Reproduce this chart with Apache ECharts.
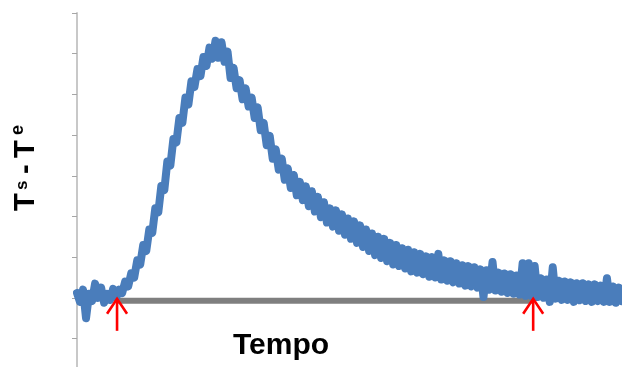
<!DOCTYPE html>
<html>
<head>
<meta charset="utf-8">
<script src="https://cdn.jsdelivr.net/npm/echarts@6/dist/echarts.min.js"></script>
<style>
  html, body { margin: 0; padding: 0; background: #fff; }
  #chart { width: 622px; height: 367px; }
</style>
</head>
<body>
<div id="chart"></div>
<script>
// Ts - Te response, one reading per sample step
const tsTe = [
  0.12, -0.1, 0.2, -0.5, 0.1, -0.08, 0.35, 0.0, 0.25, -0.12,
  0.1, -0.05, 0.22, 0.0, 0.2, 0.12, 0.4, 0.28, 0.6, 0.5,
  0.92, 0.82, 1.3, 1.15, 1.68, 1.6, 2.2, 2.1, 2.75, 2.65,
  3.35, 3.25, 3.9, 3.82, 4.42, 4.3, 4.92, 4.75, 5.32, 5.18,
  5.62, 5.45, 5.92, 5.7, 6.15, 5.88, 6.32, 5.9, 6.28, 5.8,
  6.05, 5.4, 5.65, 5.15, 5.35, 4.88, 5.15, 4.7, 4.92, 4.42,
  4.68, 4.12, 4.3, 3.75, 3.98, 3.42, 3.65, 3.15, 3.42, 2.9,
  3.18, 2.7, 3.02, 2.52, 2.85, 2.4, 2.74, 2.25, 2.62, 2.12,
  2.48, 1.98, 2.35, 1.85, 2.2, 1.75, 2.15, 1.65, 2.05, 1.55,
  1.95, 1.45, 1.88, 1.35, 1.78, 1.25, 1.68, 1.15, 1.58, 1.05,
  1.5, 0.98, 1.45, 0.9, 1.35, 0.82, 1.3, 0.78, 1.22, 0.72,
  1.18, 0.65, 1.12, 0.62, 1.08, 0.58, 1.02, 0.52, 1.0, 0.5,
  1.08, 0.45, 0.92, 0.42, 0.9, 0.38, 0.85, 0.35, 0.8, 0.3,
  0.78, 0.28, 0.75, 0.25, 0.7, 0.02, 0.68, 0.2, 0.88, 0.18,
  0.62, 0.15, 0.6, 0.12, 0.58, 0.1, 0.55, 0.08, 0.85, 0.05,
  0.85, 0.05, 0.78, 0.02, 0.48, 0.0, 0.45, -0.1, 0.75, -0.02,
  0.42, -0.05, 0.4, -0.05, 0.38, -0.1, 0.36, -0.06, 0.36, -0.08,
  0.33, -0.1, 0.33, -0.08, 0.3, -0.1, 0.48, -0.1, 0.28, -0.12,
  0.25, -0.08
];

// start / end of the response (sample position)
const arrowAt = [13.3, 151.5];
const baseline = [[13.3, -0.07], [151.5, -0.07]];

const yMin = -1.7;
const yMax = 7;
const yTicks = [-1, 0, 1, 2, 3, 4, 5, 6, 7];

const FONT = '"Liberation Sans", Arial, sans-serif';

const chart = echarts.init(document.getElementById('chart'), null, { renderer: 'canvas' });

chart.setOption({
  animation: false,
  grid: { left: 77, right: 0, top: 13, bottom: 0, containLabel: false },
  xAxis: {
    type: 'value',
    min: 0,
    max: tsTe.length - 1,
    show: false
  },
  yAxis: {
    type: 'value',
    min: yMin,
    max: yMax,
    axisLine: { show: true, lineStyle: { color: '#c8c8c8', width: 2 } },
    axisTick: {
      show: true,
      length: 5,
      customValues: yTicks,
      lineStyle: { color: '#a6a6a6', width: 1 }
    },
    axisLabel: { show: false },
    splitLine: { show: false }
  },
  series: [
    {
      type: 'line',
      data: baseline,
      symbol: 'none',
      z: 1,
      lineStyle: { color: '#7f7f7f', width: 6 }
    },
    {
      type: 'line',
      data: tsTe.map((v, i) => [i, v]),
      symbol: 'none',
      z: 2,
      lineStyle: { color: '#4a7dbb', width: 8, join: 'round', cap: 'round' }
    },
    {
      type: 'custom',
      z: 3,
      data: arrowAt.map((t) => [t, 0]),
      renderItem: (params, api) => {
        const p = api.coord([api.value(0), api.value(1)]);
        const x = p[0];
        const y = p[1] + 1;
        const style = { stroke: '#ff0000', lineWidth: 2.6, fill: null };
        return {
          type: 'group',
          children: [
            { type: 'line', shape: { x1: x, y1: y, x2: x, y2: y + 32 }, style },
            { type: 'polyline', shape: { points: [[x - 10, y + 15], [x, y], [x + 10, y + 15]] }, style }
          ]
        };
      }
    }
  ],
  graphic: [
    {
      type: 'text',
      x: 233,
      y: 346,
      style: {
        text: 'Tempo',
        font: 'bold 30px ' + FONT,
        fill: '#000',
        textAlign: 'left',
        textVerticalAlign: 'middle'
      }
    },
    {
      type: 'group',
      x: 35,
      y: 212,
      rotation: Math.PI / 2,
      children: [
        { type: 'text', x: 1, y: -9, style: { text: 'T', font: 'bold 29px ' + FONT, fill: '#000', textVerticalAlign: 'middle' } },
        { type: 'text', x: 22, y: -13, style: { text: 's', font: 'bold 17px ' + FONT, fill: '#000', textVerticalAlign: 'middle' } },
        { type: 'text', x: 38, y: -9, style: { text: '-', font: 'bold 29px ' + FONT, fill: '#000', textVerticalAlign: 'middle' } },
        { type: 'text', x: 54, y: -9, style: { text: 'T', font: 'bold 29px ' + FONT, fill: '#000', textVerticalAlign: 'middle' } },
        { type: 'text', x: 77, y: -17, style: { text: 'e', font: 'bold 18px ' + FONT, fill: '#000', textVerticalAlign: 'middle' } }
      ]
    }
  ]
});
</script>
</body>
</html>
